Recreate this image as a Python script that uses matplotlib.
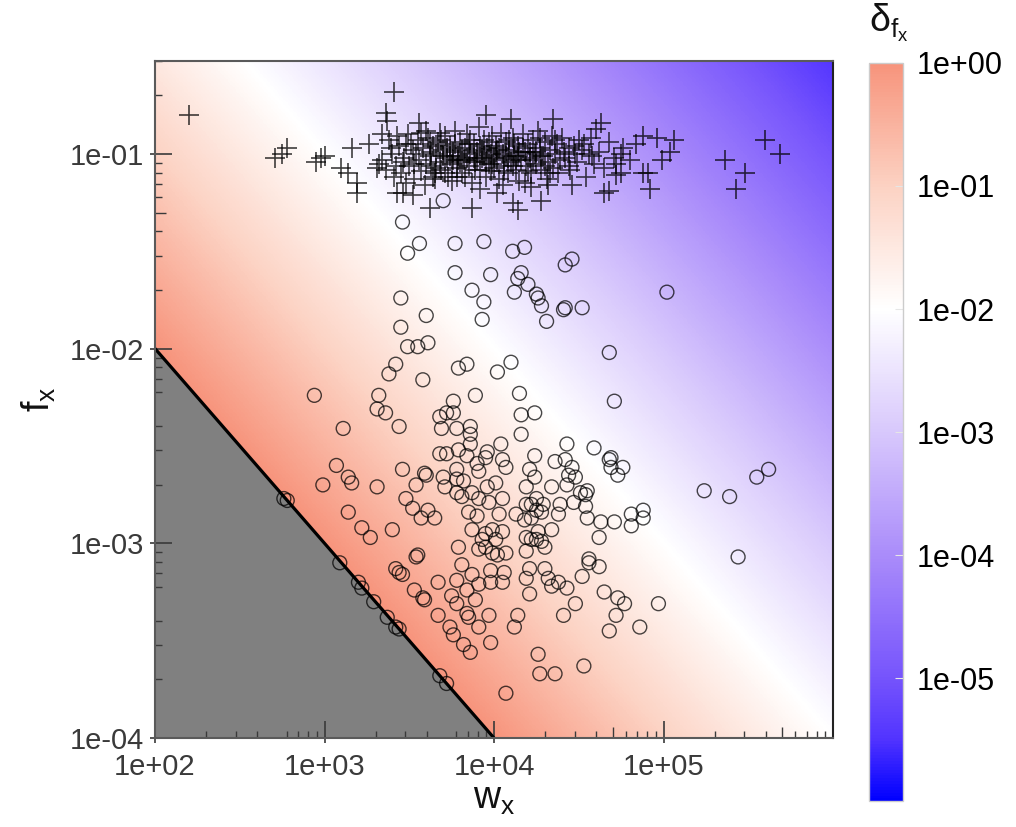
"""
Detection error map: relative error delta_f over (w_x, f_x) with two point classes
"""

import numpy as np
import matplotlib
matplotlib.use('Agg')
import matplotlib.pyplot as plt
from matplotlib.colors import LinearSegmentedColormap, LogNorm
from matplotlib.ticker import FixedLocator, LogLocator, FuncFormatter, NullFormatter

plt.rcParams['font.family'] = ['Liberation Sans', 'DejaVu Sans']
plt.rcParams['mathtext.fontset'] = 'custom'
plt.rcParams['mathtext.rm'] = 'Liberation Sans'
plt.rcParams['mathtext.it'] = 'Liberation Sans'

# ---- data (log10 units) ----
# crosses, sparse ones around the main cluster
cross_log_w = [2.20, 3.41, 3.36, 3.37, 2.71, 2.75, 2.78, 2.95, 2.98, 3.00,
               3.10, 3.14, 3.16, 3.19, 3.19, 3.26, 3.31, 3.32, 3.34, 3.34,
               3.43, 3.46, 3.52, 3.62, 3.64, 3.87, 3.48, 3.56, 3.60, 3.68,
               3.79, 3.75, 3.95, 4.10, 4.35, 4.63, 4.60, 4.88, 4.96, 5.06,
               5.04, 4.99, 4.91, 4.92, 4.88, 5.60, 5.69, 5.36, 5.48, 5.43,
               4.65, 4.68, 4.72, 4.75, 4.46, 4.28, 4.14, 4.11, 4.02, 4.22,
               4.32, 4.44, 4.50, 4.56, 4.84, 4.75, 4.72]
cross_log_f = [-0.80, -0.68, -0.79, -0.83, -1.02, -1.00, -0.97, -1.04, -1.02, -1.01,
               -1.07, -1.10, -0.97, -1.15, -1.20, -0.95, -1.07, -1.05, -1.03, -0.90,
               -1.20, -1.20, -1.21, -1.28, -1.12, -1.28, -0.95, -0.84, -0.88, -0.89,
               -1.03, -1.14, -0.80, -0.82, -0.82, -0.84, -0.87, -0.91, -0.92, -0.93,
               -0.99, -1.03, -1.10, -1.18, -1.10, -0.93, -1.00, -1.03, -1.10, -1.18,
               -1.20, -1.19, -1.11, -1.10, -1.16, -1.24, -1.29, -1.25, -1.20, -1.17,
               -1.16, -0.97, -0.93, -1.00, -0.95, -1.00, -1.05]

# crosses, dense cluster near w ~ 1e4, f ~ 0.1
cluster_log_w = [3.38, 3.40, 3.42, 3.44, 3.45, 3.47, 3.49, 3.50, 3.52, 3.53,
                 3.55, 3.56, 3.57, 3.58, 3.59, 3.61, 3.62, 3.63, 3.64, 3.65,
                 3.66, 3.67, 3.68, 3.69, 3.70, 3.71, 3.72, 3.73, 3.74, 3.75,
                 3.76, 3.77, 3.78, 3.79, 3.80, 3.81, 3.82, 3.83, 3.84, 3.85,
                 3.86, 3.87, 3.88, 3.89, 3.90, 3.91, 3.92, 3.93, 3.94, 3.95,
                 3.96, 3.97, 3.98, 3.99, 4.00, 4.01, 4.02, 4.03, 4.04, 4.05,
                 4.06, 4.07, 4.08, 4.09, 4.10, 4.11, 4.12, 4.13, 4.14, 4.15,
                 4.16, 4.17, 4.18, 4.19, 4.20, 4.21, 4.22, 4.23, 4.24, 4.25,
                 4.26, 4.27, 4.28, 4.29, 4.30, 4.31, 4.32, 4.33, 4.34, 4.35,
                 4.36, 4.37, 4.38, 4.39, 4.40, 4.42, 4.45, 4.47, 4.49, 4.52,
                 4.54, 4.57, 4.59, 4.62, 4.65, 4.68, 4.71, 4.76, 4.80, 3.88,
                 3.95, 4.02, 4.08, 3.72, 4.15, 3.98, 4.12, 3.85, 4.25, 3.78,
                 4.05, 3.92, 4.18, 3.65, 3.36, 3.39, 3.41, 3.43, 3.46, 3.48,
                 3.51, 3.54, 3.57, 3.60, 3.63, 3.66, 3.69, 3.71, 3.74, 3.77,
                 3.80, 3.83, 3.86, 3.89, 3.92, 3.94, 3.97, 4.00, 4.03, 4.06,
                 4.09, 4.11, 4.14, 4.17, 4.20, 4.23, 4.27, 4.30, 4.33, 4.36,
                 4.41, 4.44, 4.48, 4.53, 4.58, 3.81, 3.90, 3.99, 4.07, 4.01,
                 3.93, 3.84, 3.76, 4.13, 4.21, 3.70, 3.62, 3.53, 4.28]
cluster_log_f = [-0.93, -1.00, -1.06, -0.96, -1.10, -1.02, -0.90, -1.06, -0.98, -1.13,
                 -0.93, -1.03, -1.09, -0.97, -1.16, -0.92, -1.01, -1.06, -0.96, -1.10,
                 -1.00, -0.94, -1.04, -1.08, -0.98, -0.91, -1.02, -1.12, -0.96, -1.05,
                 -0.99, -0.88, -1.07, -1.01, -0.94, -1.10, -1.03, -0.97, -0.90, -1.06,
                 -1.00, -1.15, -0.95, -1.04, -0.99, -0.86, -1.08, -1.02, -0.93, -1.12,
                 -0.97, -1.05, -1.00, -0.91, -1.07, -0.96, -1.03, -1.13, -0.89, -1.00,
                 -1.06, -0.94, -1.10, -0.98, -1.04, -0.92, -1.01, -1.08, -0.96, -1.14,
                 -1.03, -0.90, -0.99, -1.06, -0.95, -1.02, -1.10, -0.93, -1.00, -1.05,
                 -0.88, -0.97, -1.08, -1.01, -0.94, -1.13, -1.04, -0.98, -0.91, -1.07,
                 -1.00, -0.95, -1.10, -1.03, -0.92, -1.02, -1.08, -0.96, -1.04, -0.98,
                 -1.12, -0.92, -1.05, -0.99, -1.07, -0.94, -1.02, -0.97, -1.03, -1.02,
                 -1.04, -0.98, -1.02, -0.97, -0.99, -1.09, -0.95, -0.95, -0.99, -1.12,
                 -1.16, -1.18, -1.15, -1.13, -1.08, -0.97, -1.12, -0.91, -1.04, -1.15,
                 -0.95, -1.00, -0.89, -1.05, -0.99, -1.07, -0.93, -1.10, -1.01, -0.95,
                 -1.04, -1.12, -0.93, -1.08, -0.96, -1.01, -0.94, -1.02, -0.97, -1.09,
                 -0.93, -1.06, -1.01, -0.97, -1.09, -1.03, -0.92, -1.06, -1.10, -0.93,
                 -0.99, -1.06, -1.00, -0.95, -1.01, -0.98, -1.03, -1.05, -1.01, -0.99,
                 -0.98, -1.02, -1.03, -1.03, -0.99, -1.01, -0.95, -1.05, -1.01]

# circles
circle_log_w = [3.70, 3.46, 3.56, 3.49, 3.77, 3.94, 4.11, 4.18, 4.42, 4.46,
                3.77, 3.98, 4.16, 4.14, 4.20, 4.12, 4.25, 4.26, 4.28, 3.87,
                3.94, 3.93, 4.31, 4.41, 4.42, 4.52, 5.02, 3.45, 3.60, 3.45,
                3.49, 3.55, 3.61, 3.42, 3.38, 3.58, 3.79, 3.84, 4.10, 4.02,
                4.68, 2.94, 3.32, 3.76, 3.89, 4.15, 4.71, 3.31, 3.36, 3.11,
                3.44, 3.68, 3.72, 3.76, 3.69, 3.78, 3.86, 3.86, 3.86, 4.16,
                4.16, 4.24, 3.68, 3.72, 3.79, 3.84, 4.04, 3.96, 3.95, 3.90,
                3.91, 4.05, 4.07, 4.21, 4.24, 3.07, 3.14, 3.16, 2.99, 3.31,
                3.46, 3.59, 3.60, 3.54, 3.70, 3.78, 3.78, 3.82, 3.71, 3.78,
                3.81, 3.87, 3.96, 4.01, 3.91, 3.97, 4.05, 4.19, 4.19, 4.22,
                4.25, 2.76, 2.78, 3.14, 3.48, 3.52, 3.57, 3.61, 3.65, 3.22,
                3.27, 3.40, 3.85, 3.90, 4.03, 4.13, 3.87, 3.95, 3.99, 4.05,
                3.93, 4.01, 3.95, 3.91, 3.99, 4.07, 3.79, 3.55, 4.18, 4.19,
                4.22, 4.19, 4.43, 4.59, 4.24, 4.36, 4.42, 4.46, 4.44, 4.48,
                4.43, 4.68, 4.69, 4.76, 4.73, 4.69, 4.34, 4.51, 4.55, 4.54,
                4.25, 4.29, 4.39, 4.47, 4.54, 4.28, 4.22, 4.38, 4.55, 4.63,
                4.71, 4.81, 4.88, 4.88, 4.81, 5.24, 5.39, 5.55, 5.62, 4.26,
                4.34, 4.25, 4.30, 4.62, 4.56, 5.44, 3.54, 3.42, 3.44, 3.46,
                3.53, 3.09, 3.20, 3.22, 3.29, 3.37, 3.42, 3.44, 3.58, 3.59,
                3.67, 3.81, 3.78, 3.87, 3.84, 3.91, 3.98, 3.98, 4.05, 4.06,
                4.02, 3.75, 3.78, 3.89, 3.67, 3.84, 3.85, 3.97, 3.74, 3.76,
                3.91, 3.82, 3.86, 3.98, 4.14, 4.12, 4.19, 4.21, 4.30, 4.32,
                4.34, 4.38, 4.43, 4.21, 4.48, 4.41, 4.52, 4.56, 4.62, 4.65,
                4.73, 4.77, 4.72, 4.68, 4.86, 4.97, 4.26, 4.27, 4.36, 4.53,
                4.07, 3.68, 3.72, 4.28]
circle_log_f = [-1.24, -1.35, -1.46, -1.51, -1.46, -1.45, -1.50, -1.48, -1.57, -1.54,
                -1.61, -1.62, -1.61, -1.64, -1.67, -1.71, -1.72, -1.74, -1.78, -1.70,
                -1.76, -1.85, -1.86, -1.80, -1.79, -1.79, -1.71, -1.74, -1.83, -1.89,
                -1.99, -1.99, -1.97, -2.08, -2.13, -2.16, -2.10, -2.08, -2.07, -2.12,
                -2.02, -2.24, -2.24, -2.27, -2.24, -2.23, -2.27, -2.31, -2.33, -2.41,
                -2.40, -2.35, -2.33, -2.33, -2.41, -2.41, -2.40, -2.44, -2.49, -2.34,
                -2.44, -2.33, -2.54, -2.54, -2.52, -2.55, -2.49, -2.53, -2.56, -2.59,
                -2.63, -2.57, -2.61, -2.62, -2.55, -2.60, -2.66, -2.69, -2.70, -2.71,
                -2.62, -2.64, -2.65, -2.70, -2.66, -2.62, -2.67, -2.68, -2.71, -2.74,
                -2.76, -2.74, -2.71, -2.69, -2.77, -2.79, -2.77, -2.71, -2.80, -2.80,
                -2.83, -2.77, -2.78, -2.84, -2.77, -2.82, -2.87, -2.83, -2.87, -2.92,
                -2.97, -2.93, -2.84, -2.86, -2.85, -2.85, -2.93, -2.95, -2.93, -2.94,
                -2.98, -2.98, -3.02, -3.03, -3.05, -3.05, -3.02, -3.06, -2.88, -2.97,
                -2.98, -3.04, -2.49, -2.51, -2.66, -2.58, -2.57, -2.61, -2.65, -2.66,
                -2.70, -2.57, -2.56, -2.61, -2.65, -2.61, -2.71, -2.74, -2.73, -2.75,
                -2.77, -2.80, -2.80, -2.79, -2.81, -2.84, -2.87, -2.85, -2.87, -2.89,
                -2.89, -2.85, -2.83, -2.87, -2.91, -2.73, -2.76, -2.66, -2.62, -2.94,
                -2.93, -2.98, -3.02, -2.97, -3.08, -3.07, -3.07, -3.13, -3.15, -3.16,
                -3.24, -3.10, -3.20, -3.23, -3.30, -3.38, -3.43, -3.44, -3.28, -3.29,
                -3.20, -3.11, -3.19, -3.16, -3.24, -3.21, -3.20, -3.14, -3.20, -3.15,
                -3.06, -3.27, -3.31, -3.29, -3.37, -3.36, -3.38, -3.37, -3.43, -3.47,
                -3.43, -3.52, -3.56, -3.51, -3.37, -3.43, -3.18, -3.13, -3.13, -3.18,
                -3.22, -3.20, -3.23, -3.26, -3.31, -3.37, -3.17, -3.10, -3.12, -3.25,
                -3.28, -3.31, -3.37, -3.45, -3.43, -3.31, -3.57, -3.67, -3.67, -3.63,
                -3.77, -3.68, -3.72, -2.99]

x_ticks = [1e2, 1e3, 1e4, 1e5]
y_ticks = [1e-4, 1e-3, 1e-2, 1e-1]
cbar_ticks = [1e0, 1e-1, 1e-2, 1e-3, 1e-4, 1e-5]

x_lim = (1e2, 1e6)
y_lim = (1e-4, 0.3)

# blue -> lavender -> white -> salmon, white sits at 1e-2
cmap = LinearSegmentedColormap.from_list('delta', [
    (0.0, (0 / 255, 0 / 255, 255 / 255)),
    (1 / 12, (82 / 255, 52 / 255, 255 / 255)),
    (1 / 6, (118 / 255, 84 / 255, 252 / 255)),
    (2 / 6, (170 / 255, 140 / 255, 250 / 255)),
    (3 / 6, (216 / 255, 200 / 255, 252 / 255)),
    (4 / 6, (255 / 255, 255 / 255, 255 / 255)),
    (5 / 6, (252 / 255, 210 / 255, 195 / 255)),
    (1.0, (247 / 255, 148 / 255, 124 / 255)),
])
norm = LogNorm(vmin=1e-6, vmax=1e0)


def sci_label(v, pos=None):
    return '%.0e' % v


def add_extra_ticks(ax, which, major, mid):
    """Short outward ticks at the decades and medium inward ticks at 5x."""
    if which == 'x':
        sec = ax.secondary_xaxis('bottom')
        sec.set_xticks(major)
        sec.xaxis.set_minor_locator(FixedLocator(mid))
        sec.xaxis.set_major_formatter(NullFormatter())
        sec.xaxis.set_minor_formatter(NullFormatter())
    else:
        sec = ax.secondary_yaxis('left')
        sec.set_yticks(major)
        sec.yaxis.set_minor_locator(FixedLocator(mid))
        sec.yaxis.set_major_formatter(NullFormatter())
        sec.yaxis.set_minor_formatter(NullFormatter())
    sec.tick_params(which='major', direction='out', length=3.5, width=1.2,
                    color='#3a3a3a')
    sec.tick_params(which='minor', direction='in', length=8, width=1.0,
                    color='#3a3a3a')
    for sp in sec.spines.values():
        sp.set_visible(False)


def main():
    fig = plt.figure(figsize=(10.16, 8.27), dpi=100)
    ax = fig.add_axes([0.1526, 0.1076, 0.6673, 0.8186])
    cax = fig.add_axes([0.855, 0.031, 0.034, 0.893])

    # background field delta = 1 / (w f)
    wg = np.logspace(np.log10(x_lim[0]), np.log10(x_lim[1]), 500)
    fg = np.logspace(np.log10(y_lim[0]), np.log10(y_lim[1]), 500)
    W, F = np.meshgrid(wg, fg)
    delta = 1.0 / (W * F)
    mesh = ax.pcolormesh(W, F, delta, cmap=cmap, norm=norm, shading='auto',
                         rasterized=True, zorder=0)

    # forbidden region f < 1/w
    wl = np.logspace(2, 4, 200)
    ax.fill_between(wl, y_lim[0] * 0.5, 1.0 / wl, color='#808080', zorder=1, lw=0)
    ax.plot(wl, 1.0 / wl, color='black', lw=2.3, zorder=2)

    # points
    ax.scatter(10 ** np.array(circle_log_w), 10 ** np.array(circle_log_f),
               s=100, facecolors='none', edgecolors=(0, 0, 0, 0.72),
               linewidths=1.0, zorder=3)
    ax.scatter(10 ** np.array(cluster_log_w), 10 ** np.array(cluster_log_f),
               marker='+', s=225, color=(0, 0, 0, 0.72), linewidths=1.2, zorder=4)
    ax.scatter(10 ** np.array(cross_log_w), 10 ** np.array(cross_log_f),
               marker='+', s=225, color=(0, 0, 0, 0.75), linewidths=1.2, zorder=4)

    ax.set_xscale('log')
    ax.set_yscale('log')
    ax.set_xlim(*x_lim)
    ax.set_ylim(*y_lim)

    ax.xaxis.set_major_locator(FixedLocator(x_ticks))
    ax.yaxis.set_major_locator(FixedLocator(y_ticks))
    ax.xaxis.set_minor_locator(LogLocator(base=10, subs=[2, 3, 4, 6, 7, 8, 9]))
    ax.yaxis.set_minor_locator(LogLocator(base=10, subs=[2, 3, 4, 6, 7, 8, 9]))
    ax.xaxis.set_major_formatter(FuncFormatter(sci_label))
    ax.yaxis.set_major_formatter(FuncFormatter(sci_label))

    tick_grey = '#3a3a3a'
    ax.tick_params(which='major', direction='in', length=12, width=1.2,
                   color=tick_grey, labelsize=21, labelcolor=tick_grey, pad=8)
    ax.tick_params(which='minor', direction='in', length=5, width=1.0,
                   color=tick_grey)
    ax.tick_params(axis='x', which='major', pad=11)
    for sp in ax.spines.values():
        sp.set_color('#5a5a5a')
        sp.set_linewidth(1.5)
        sp.set_zorder(5)
    ax.spines['right'].set_color('#222222')

    add_extra_ticks(ax, 'x', x_ticks, [5e2, 5e3, 5e4, 5e5])
    add_extra_ticks(ax, 'y', y_ticks, [5e-4, 5e-3, 5e-2])

    ax.set_xlabel(r'$\mathregular{w_x}$', fontsize=27, color='#111111', labelpad=0)
    ax.set_ylabel(r'$\mathregular{f_x}$', fontsize=27, color='#111111', labelpad=8)

    # colour bar
    cb = fig.colorbar(mesh, cax=cax)
    cb.set_ticks(cbar_ticks)
    cb.set_ticklabels([sci_label(t) for t in cbar_ticks])
    cb.minorticks_off()
    cax.tick_params(which='major', direction='in', length=6, width=0.8,
                    color='#e6e6e6', labelsize=22, labelcolor='black', pad=10)
    cb.outline.set_edgecolor('#cccccc')
    cb.outline.set_linewidth(1.0)
    fig.text(0.875, 0.973, r'$\mathregular{\delta_{f_x}}$', fontsize=27,
             ha='center', va='center', color='#111111')

    fig.savefig('out.png', dpi=100)


if __name__ == '__main__':
    main()
